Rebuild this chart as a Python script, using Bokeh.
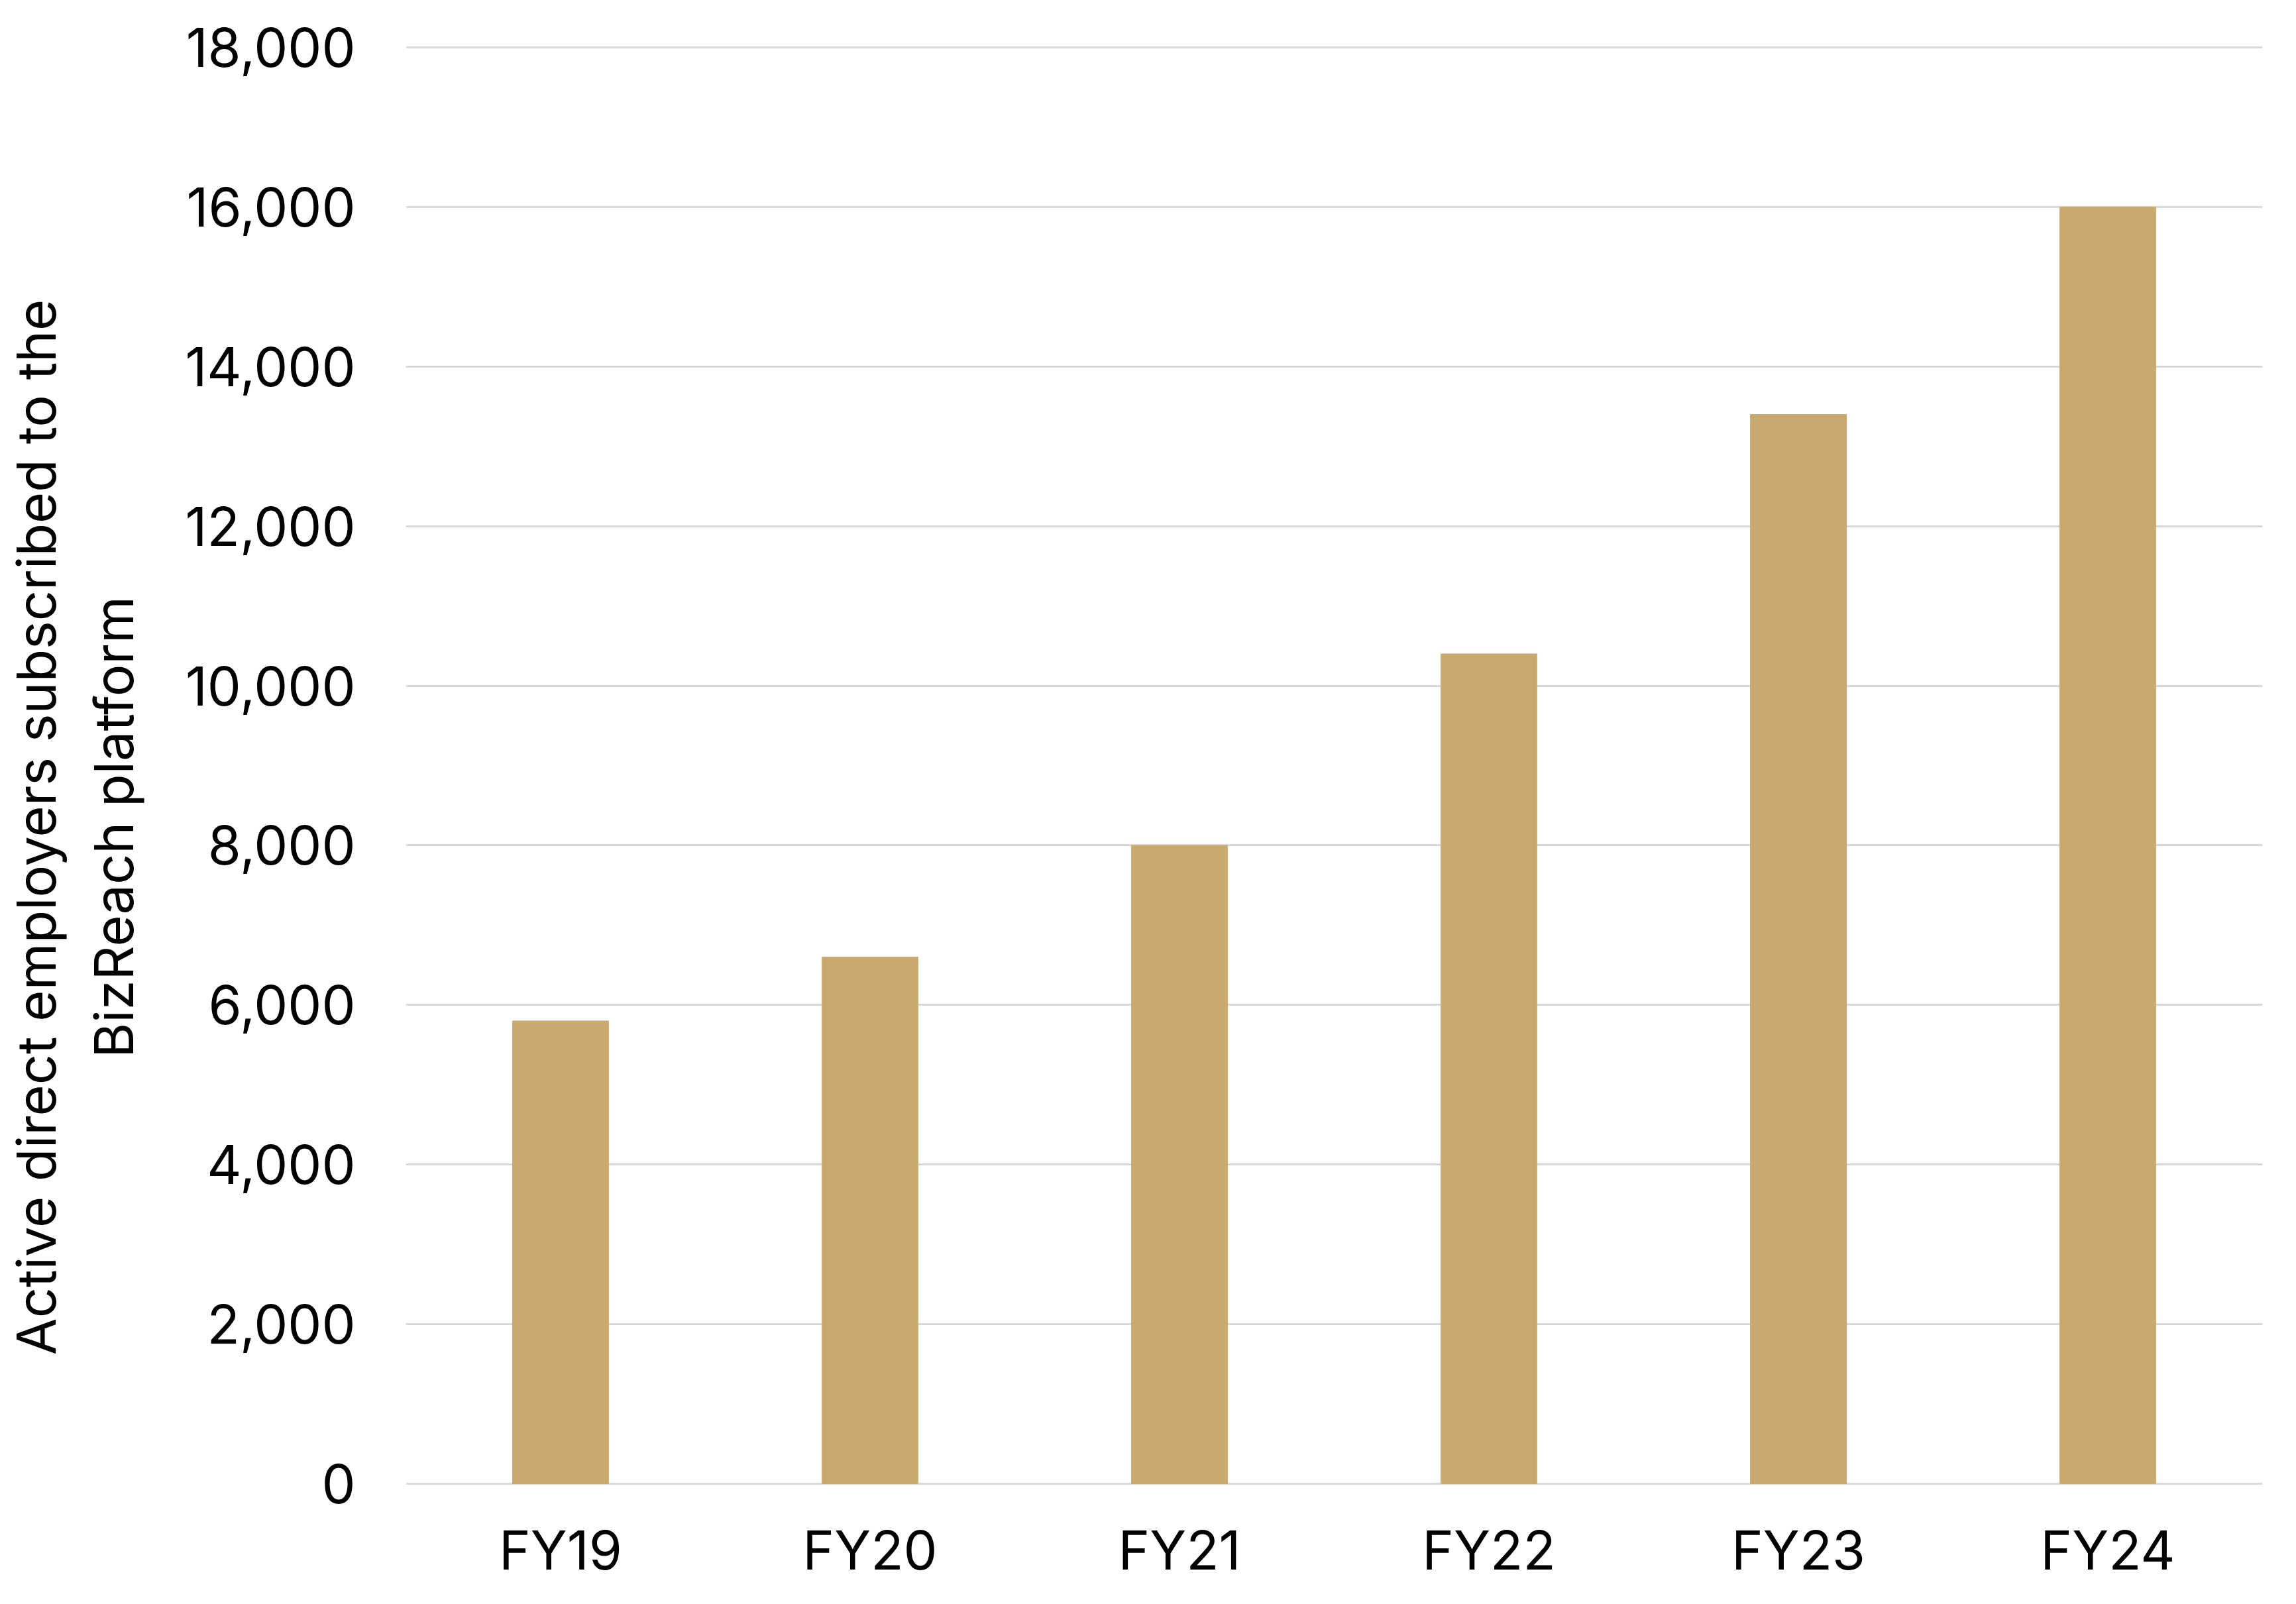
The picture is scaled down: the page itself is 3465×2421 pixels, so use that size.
import math
from bokeh.plotting import figure
from bokeh.layouts import row
from bokeh.models import ColumnDataSource, NumeralTickFormatter, FixedTicker, Range1d
from bokeh.core.properties import value
from bokeh.embed import file_html
from bokeh.resources import INLINE

categories = ["FY19", "FY20", "FY21", "FY22", "FY23", "FY24"]
employers = [5800, 6600, 8000, 10400, 13400, 16000]
y_ticks = [0, 2000, 4000, 6000, 8000, 10000, 12000, 14000, 16000, 18000]
y_title = "Active direct employers subscribed to the\nBizReach platform"

FONT = "Inter"
FSIZE = "81px"
BAR = "#C9A96E"

TOTAL_W, TOTAL_H = 3449, 2405
LEFT_W = 240

# ---- left strip holding the (rotated, two-line) y-axis title ----
t = figure(width=LEFT_W, height=TOTAL_H, x_range=Range1d(0, LEFT_W), y_range=Range1d(0, TOTAL_H),
           output_backend="svg", toolbar_location=None, x_axis_type=None, y_axis_type=None,
           min_border=0)
t.outline_line_color = None
t.grid.visible = False
t.text(x=[113], y=[TOTAL_H - 1305], text=[y_title], angle=math.pi / 2,
       text_align="center", text_baseline="middle", text_font=value(FONT),
       text_font_size=FSIZE, text_color="#000000", text_line_height=1.2)

# ---- main bar chart ----
src = ColumnDataSource(data=dict(cat=categories, val=employers))

p = figure(x_range=categories, y_range=(-50, 18050), width=TOTAL_W - LEFT_W, height=TOTAL_H,
           output_backend="svg", toolbar_location=None,
           min_border_left=612 - LEFT_W, min_border_right=35, min_border_top=65, min_border_bottom=160)

p.vbar(x="cat", top="val", width=0.31, source=src, fill_color=BAR, line_color=BAR)

p.outline_line_color = None
p.xgrid.grid_line_color = None
p.ygrid.grid_line_color = "#D9D9D9"
p.ygrid.grid_line_width = 3
p.ygrid.level = "underlay"

p.yaxis.ticker = FixedTicker(ticks=y_ticks)
p.yaxis.formatter = NumeralTickFormatter(format="0,0")
for ax in (p.xaxis, p.yaxis):
    ax.axis_line_color = None
    ax.major_tick_line_color = None
    ax.minor_tick_line_color = None
    ax.major_tick_out = 0
    ax.major_tick_in = 0
    ax.major_label_text_font = FONT
    ax.major_label_text_font_size = FSIZE
    ax.major_label_text_color = "#000000"
p.yaxis.major_label_standoff = 76
p.xaxis.major_label_standoff = 45

layout = row(t, p, spacing=0)
open("out.html", "w").write(file_html(layout, INLINE))
